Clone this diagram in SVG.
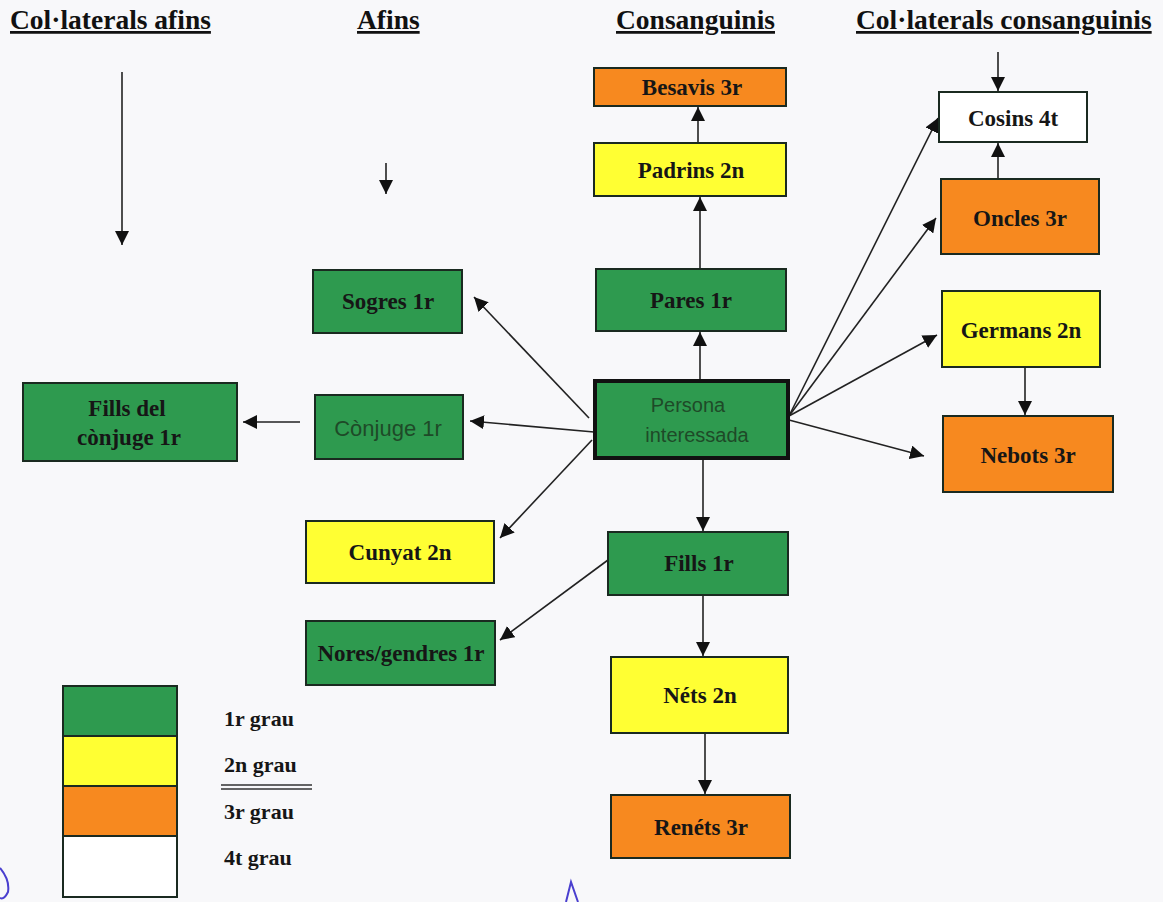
<svg xmlns="http://www.w3.org/2000/svg" width="1163" height="902" viewBox="0 0 1163 902">
<defs>
<marker id="ah" viewBox="0 0 10 10" refX="10" refY="5" markerWidth="14" markerHeight="14" markerUnits="userSpaceOnUse" orient="auto">
<path d="M0,0 L10,5 L0,10 z" fill="#111"/>
</marker>
<style>
.g{fill:#2e9a4f;stroke:#1a2a20;stroke-width:2}
.y{fill:#ffff33;stroke:#1a2a20;stroke-width:2}
.o{fill:#f7891f;stroke:#1a2a20;stroke-width:2}
.w{fill:#ffffff;stroke:#1a2a20;stroke-width:2}
.t{font-family:"Liberation Serif",serif;font-weight:bold;font-size:23px;fill:#161616;text-anchor:middle}
.s{font-family:"Liberation Sans",sans-serif;font-size:20px;fill:#1e4a28;text-anchor:middle}
.h{font-family:"Liberation Serif",serif;font-weight:bold;font-size:27.5px;fill:#111;text-decoration:underline}
.l{font-family:"Liberation Serif",serif;font-weight:bold;font-size:22px;fill:#161616}
.c line{stroke:#222;stroke-width:1.6;marker-end:url(#ah)}
</style>
</defs>
<rect width="1163" height="902" fill="#f8f8fa"/>
<g id="headings">
<text class="h" x="10" y="29">Col·laterals afins</text>
<text class="h" x="357" y="29">Afins</text>
<text class="h" x="616" y="29">Consanguinis</text>
<text class="h" x="856" y="29">Col·laterals consanguinis</text>
</g>
<g class="c" id="connectors">
<line x1="122" y1="72" x2="122" y2="245"/>
<line x1="386" y1="163" x2="386" y2="194"/>
<line x1="998" y1="52" x2="998" y2="91"/>
<line x1="698" y1="143" x2="698" y2="107"/>
<line x1="700" y1="269" x2="700" y2="197"/>
<line x1="700" y1="380" x2="700" y2="332"/>
<line x1="703" y1="459" x2="703" y2="531"/>
<line x1="703" y1="595" x2="703" y2="656"/>
<line x1="705" y1="733" x2="705" y2="794"/>
<line x1="589" y1="418" x2="474" y2="297"/>
<line x1="594" y1="432" x2="470" y2="421"/>
<line x1="300" y1="422" x2="243" y2="422"/>
<line x1="592" y1="440" x2="500" y2="538"/>
<line x1="608" y1="560" x2="500" y2="640"/>
<line x1="789" y1="416" x2="938" y2="118"/>
<line x1="789" y1="416" x2="936" y2="218"/>
<line x1="789" y1="416" x2="937" y2="335"/>
<line x1="789" y1="420" x2="924" y2="456"/>
<line x1="998" y1="179" x2="998" y2="143"/>
<line x1="1025" y1="367" x2="1025" y2="415"/>
</g>
<g id="besavis"><rect class="o" x="594" y="68" width="192" height="38"/><text class="t" x="692" y="95">Besavis 3r</text></g>
<g id="padrins"><rect class="y" x="594" y="143" width="192" height="53"/><text class="t" x="691" y="178">Padrins 2n</text></g>
<g id="pares"><rect class="g" x="596" y="269" width="190" height="62"/><text class="t" x="691" y="308">Pares 1r</text></g>
<g id="persona"><rect class="g" x="595" y="381" width="193" height="77" style="stroke:#111;stroke-width:4"/><text class="s" x="688" y="412">Persona</text><text class="s" x="697" y="442">interessada</text></g>
<g id="fills"><rect class="g" x="608" y="532" width="180" height="63"/><text class="t" x="699" y="571">Fills 1r</text></g>
<g id="nets"><rect class="y" x="611" y="657" width="177" height="76"/><text class="t" x="700" y="703">Néts 2n</text></g>
<g id="renets"><rect class="o" x="611" y="795" width="179" height="63"/><text class="t" x="701" y="835">Renéts 3r</text></g>
<g id="sogres"><rect class="g" x="313" y="270" width="149" height="63"/><text class="t" x="388" y="309">Sogres 1r</text></g>
<g id="conjuge"><rect class="g" x="315" y="395" width="148" height="64"/><text class="s" x="388" y="436" style="font-size:22px">Cònjuge 1r</text></g>
<g id="fillsconjuge"><rect class="g" x="23" y="383" width="214" height="78"/><text class="t" x="127" y="416">Fills del</text><text class="t" x="129" y="445">cònjuge 1r</text></g>
<g id="cunyat"><rect class="y" x="306" y="521" width="188" height="62"/><text class="t" x="400" y="560">Cunyat 2n</text></g>
<g id="nores"><rect class="g" x="306" y="621" width="189" height="64"/><text class="t" x="401" y="661">Nores/gendres 1r</text></g>
<g id="cosins"><rect class="w" x="939" y="92" width="148" height="50"/><text class="t" x="1013" y="126">Cosins 4t</text></g>
<g id="oncles"><rect class="o" x="941" y="179" width="158" height="75"/><text class="t" x="1020" y="226">Oncles 3r</text></g>
<g id="germans"><rect class="y" x="942" y="291" width="158" height="76"/><text class="t" x="1021" y="338">Germans 2n</text></g>
<g id="nebots"><rect class="o" x="943" y="416" width="170" height="76"/><text class="t" x="1028" y="463">Nebots 3r</text></g>
<g id="legend">
<rect class="g" x="63" y="686" width="114" height="50"/>
<rect class="y" x="63" y="736" width="114" height="50"/>
<rect class="o" x="63" y="786" width="114" height="50"/>
<rect class="w" x="63" y="836" width="114" height="61"/>
<text class="l" x="224" y="726">1r grau</text>
<text class="l" x="224" y="772">2n grau</text>
<line x1="221" y1="785" x2="312" y2="785" stroke="#333" stroke-width="1.5"/>
<line x1="221" y1="789" x2="312" y2="789" stroke="#333" stroke-width="1.5"/>
<text class="l" x="224" y="819">3r grau</text>
<text class="l" x="224" y="865">4t grau</text>
</g>
<g id="scribbles" fill="none" stroke="#4a3fcf" stroke-width="2">
<path d="M0,868 Q10,880 8,892 Q4,900 0,898"/>
<path d="M566,902 L571,882 L578,902"/>
</g>
</svg>
